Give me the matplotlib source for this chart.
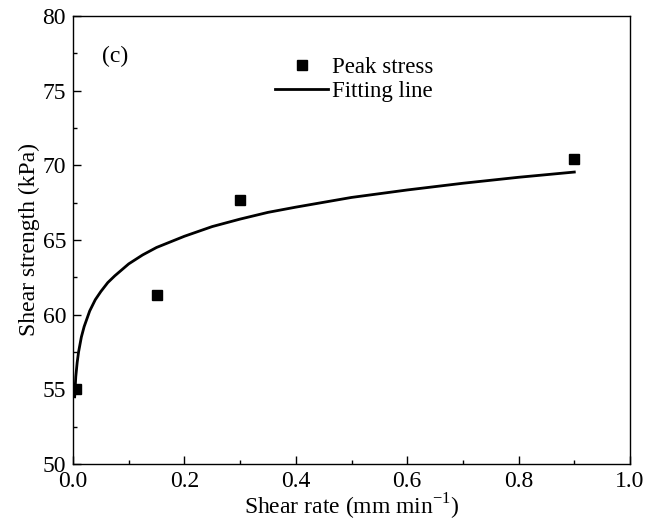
import matplotlib
matplotlib.use('Agg')
import matplotlib.pyplot as plt
from matplotlib.ticker import MultipleLocator

plt.rcParams['font.family'] = ['Liberation Serif', 'DejaVu Serif']
plt.rcParams['mathtext.fontset'] = 'custom'
plt.rcParams['mathtext.rm'] = 'Liberation Serif'

# measured peak stress
rate = [0.005, 0.15, 0.30, 0.90]
stress = [55.0, 61.3, 67.7, 70.4]

# fitting line
fit_rate = [0.003, 0.005, 0.0075, 0.01, 0.015, 0.02, 0.03, 0.04, 0.05, 0.0625,
            0.075, 0.1, 0.125, 0.15, 0.2, 0.25, 0.3, 0.35, 0.4, 0.5, 0.6,
            0.7, 0.8, 0.9]
fit_stress = [54.5, 55.85, 56.8, 57.5, 58.5, 59.2, 60.25, 61.0, 61.55, 62.15,
              62.6, 63.4, 64.0, 64.5, 65.25, 65.9, 66.4, 66.85, 67.2, 67.85,
              68.35, 68.8, 69.2, 69.55]

fig = plt.figure(figsize=(6.46, 5.28), dpi=100)
ax = fig.add_axes([73/646, 64/528, 557/646, 448/528])

ax.plot(rate, stress, 's', c='k', ms=7, label='Peak stress', zorder=3)
ax.plot(fit_rate, fit_stress, '-', c='k', lw=2, label='Fitting line')

ax.set_xlim(0, 1.0)
ax.set_ylim(50, 80)
ax.xaxis.set_major_locator(MultipleLocator(0.2))
ax.xaxis.set_minor_locator(MultipleLocator(0.1))
ax.yaxis.set_major_locator(MultipleLocator(5))
ax.yaxis.set_minor_locator(MultipleLocator(2.5))
ax.set_xticklabels(['%.1f' % v for v in ax.get_xticks()])
ax.tick_params(which='both', direction='in', labelsize=17, width=1, pad=5)
ax.tick_params(which='major', length=6)
ax.tick_params(which='minor', length=3)
for s in ax.spines.values():
    s.set_linewidth(1)

ax.set_xlabel('Shear rate (mm min$^{-1}$)', fontsize=17, labelpad=0)
ax.set_ylabel('Shear strength (kPa)', fontsize=17, labelpad=2)
ax.text(0.052, 0.91, '(c)', transform=ax.transAxes, fontsize=17, va='center')

ax.legend(loc='upper left', bbox_to_anchor=(0.347, 0.93), frameon=False,
          fontsize=16.5, handlelength=2.3, handletextpad=0.15, labelspacing=0.15,
          borderaxespad=0)

fig.savefig('out.png', dpi=100)
